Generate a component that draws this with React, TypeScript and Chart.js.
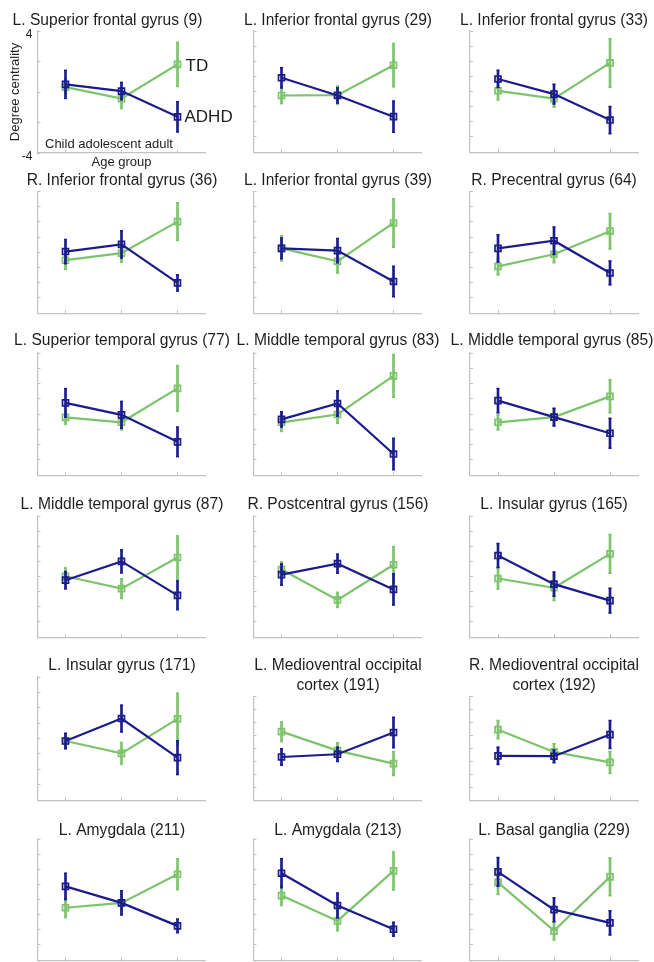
import React, { useEffect, useRef } from 'react';
import { Chart, registerables } from 'chart.js';

Chart.register(...registerables);

// ---------------- DATA ----------------
const ageGroups = ['Child', 'adolescent', 'adult'];
const seriesNames = ['TD', 'ADHD'];
const yRange = [-4, 4];
const yTickLabels = ['-4', '4'];
const yAxisTitle = 'Degree centrality';
const xAxisTitle = 'Age group';

const regionTitles: string[][] = [
  ['L. Superior frontal gyrus (9)'],
  ['L. Inferior frontal gyrus (29)'],
  ['L. Inferior frontal gyrus (33)'],
  ['R. Inferior frontal gyrus (36)'],
  ['L. Inferior frontal gyrus (39)'],
  ['R. Precentral gyrus (64)'],
  ['L. Superior temporal gyrus (77)'],
  ['L. Middle temporal gyrus (83)'],
  ['L. Middle temporal gyrus (85)'],
  ['L. Middle temporal gyrus (87)'],
  ['R. Postcentral gyrus (156)'],
  ['L. Insular gyrus (165)'],
  ['L. Insular gyrus (171)'],
  ['L. Medioventral occipital', 'cortex (191)'],
  ['R. Medioventral occipital', 'cortex (192)'],
  ['L. Amygdala (211)'],
  ['L. Amygdala (213)'],
  ['L. Basal ganglia (229)'],
];

const tdMeans: number[][] = [
  [0.32, -0.43, 1.81],
  [-0.26, -0.24, 1.74],
  [0.05, -0.47, 1.89],
  [-0.52, -0.06, 2.02],
  [0.26, -0.6, 1.93],
  [-0.93, -0.13, 1.39],
  [-0.22, -0.54, 1.68],
  [-0.54, -0.03, 2.5],
  [-0.54, -0.2, 1.16],
  [0.02, -0.8, 1.26],
  [0.46, -1.54, 0.78],
  [-0.13, -0.74, 1.5],
  [-0.16, -0.96, 1.28],
  [1.29, -0.18, -1.18],
  [1.44, -0.28, -1.09],
  [-0.54, -0.22, 1.67],
  [0.26, -1.41, 1.89],
  [1.13, -2.07, 1.5],
];
const tdErrors: number[][] = [
  [0.5, 0.65, 1.45],
  [0.54, 0.6, 1.43],
  [0.6, 0.57, 1.6],
  [0.6, 0.6, 1.24],
  [0.83, 0.76, 1.6],
  [0.55, 0.55, 1.17],
  [0.45, 0.5, 1.5],
  [0.6, 0.58, 1.4],
  [0.5, 0.55, 1.08],
  [0.55, 0.65, 1.43],
  [0.5, 0.5, 1.2],
  [0.7, 0.85, 1.28],
  [0.5, 0.7, 1.67],
  [0.76, 0.6, 0.93],
  [0.7, 0.63, 0.85],
  [0.65, 0.6, 1.02],
  [0.65, 0.65, 1.26],
  [0.8, 0.6, 1.25],
];
const adhdMeans: number[][] = [
  [0.5, 0.06, -1.63],
  [0.91, -0.26, -1.66],
  [0.83, -0.17, -1.88],
  [0.05, 0.52, -2.01],
  [0.26, 0.11, -1.92],
  [0.26, 0.76, -1.36],
  [0.73, -0.05, -1.82],
  [-0.35, 0.69, -2.62],
  [0.88, -0.2, -1.26],
  [-0.24, 1.0, -1.24],
  [0.13, 0.85, -0.85],
  [1.39, -0.5, -1.59],
  [-0.16, 1.3, -1.24],
  [-0.67, -0.46, 1.22],
  [-0.58, -0.61, 1.06],
  [0.87, -0.22, -1.74],
  [1.74, -0.39, -1.96],
  [1.83, -0.67, -1.54],
];
const adhdErrors: number[][] = [
  [0.92, 0.57, 0.99],
  [0.67, 0.5, 1.03],
  [0.57, 0.65, 0.9],
  [0.8, 0.89, 0.53],
  [0.68, 0.8, 1.0],
  [0.89, 0.9, 0.78],
  [0.94, 0.88, 0.97],
  [0.5, 0.83, 1.03],
  [0.8, 0.58, 0.98],
  [0.57, 0.76, 0.95],
  [0.7, 0.63, 1.03],
  [0.8, 0.8, 0.82],
  [0.5, 0.87, 1.1],
  [0.64, 0.55, 1.18],
  [0.67, 0.5, 1.08],
  [0.87, 0.8, 0.45],
  [0.96, 0.82, 0.46],
  [0.95, 0.79, 0.8],
];

// ---------------- STYLE / LAYOUT ----------------
const TD_COLOR = '#7dc36b';
const ADHD_COLOR = '#1b1b8e';
const AXIS_COLOR = '#c2c2c2';
const TEXT_COLOR = '#1e1e1e';
const FONT = '"Liberation Sans", Arial, Helvetica, sans-serif';
const TITLE_SIZE = 15.6;
const TITLE_LH = 1.25;
const TITLE_LINE_PX = TITLE_SIZE * TITLE_LH;

const colChartLeft = [37.5, 253.5, 470];
const chartWidth = 168;
const rowTitleY = [21, 181, 341, 505, 666, 830.5];
const rowChartTop = [31, 191.5, 353, 516, 677, 839];
const rowChartBottom = [153, 314, 475.5, 638, 801, 961];
const extraLineDrop = 19.5;

function geometry(idx: number) {
  const r = Math.floor(idx / 3);
  const c = idx % 3;
  const lines = regionTitles[idx].length;
  const chartLeft = colChartLeft[c];
  const chartRight = chartLeft + chartWidth;
  const tc = rowTitleY[r];
  const top = rowChartTop[r] + (lines - 1) * extraLineDrop;
  const bottom = rowChartBottom[r];
  let CL: number;
  let W: number;
  if (idx === 0) {
    CL = -20;
    W = 255;
  } else if (idx === 8) {
    CL = chartLeft - 34;
    W = 232;
  } else {
    CL = chartLeft - 30;
    W = 228;
  }
  const CLi = Math.round(CL);
  const yw1 = chartLeft - CLi;
  const yw2 = CLi + W - chartRight;
  const CT = Math.round(tc - TITLE_LINE_PX / 2 - 4);
  const tpt = tc - TITLE_LINE_PX / 2 - CT;
  const tpb = top - (CT + tpt + lines * TITLE_LINE_PX);
  const xh = idx === 0 ? 18 : 4;
  const needed = bottom + xh - CT;
  const H = Math.ceil(needed) + 1;
  const padBottom = H - needed;
  return { CL: CLi, CT, W, H, yw1, yw2, tpt, tpb, xh, padBottom };
}

const firstPanelLabels = {
  id: 'firstPanelLabels',
  afterDatasetsDraw(chart: any) {
    const { ctx, chartArea } = chart;
    const x = chart.scales.x;
    const y = chart.scales.y;
    ctx.save();
    ctx.fillStyle = TEXT_COLOR;
    ctx.textBaseline = 'middle';
    ctx.textAlign = 'left';
    ctx.font = `17px ${FONT}`;
    const xa = x.getPixelForValue(2);
    ctx.fillText(seriesNames[0], xa + 8, y.getPixelForValue(tdMeans[0][2]) + 2);
    ctx.fillText(seriesNames[1], xa + 7, y.getPixelForValue(adhdMeans[0][2]));
    ctx.font = `13px ${FONT}`;
    ctx.fillText(ageGroups.join(' '), chartArea.left + 7.5, chartArea.bottom - 9);
    ctx.restore();
  },
};

function buildConfig(idx: number, g: ReturnType<typeof geometry>) {
  const isFirst = idx === 0;
  const series = [
    { name: seriesNames[1], means: adhdMeans[idx], errs: adhdErrors[idx], color: ADHD_COLOR, base: 1 },
    { name: seriesNames[0], means: tdMeans[idx], errs: tdErrors[idx], color: TD_COLOR, base: 5 },
  ];
  const datasets: any[] = [];
  series.forEach((s) => {
    const lows = s.means.map((m, i) => m - s.errs[i]);
    const highs = s.means.map((m, i) => m + s.errs[i]);
    datasets.push({
      type: 'line',
      label: s.name,
      data: s.means,
      borderColor: s.color,
      borderWidth: 2.2,
      tension: 0,
      pointStyle: 'rect',
      pointRadius: 4.2,
      pointBorderWidth: 1.7,
      pointBorderColor: s.color,
      pointBackgroundColor: 'rgba(255,255,255,0)',
      order: s.base,
    });
    datasets.push({
      type: 'bar',
      label: s.name + ' error',
      data: s.means.map((m, i) => [lows[i], highs[i]]),
      backgroundColor: s.color,
      borderWidth: 0,
      barThickness: 2,
      grouped: false,
      order: s.base + 1,
    });
    [lows, highs].forEach((vals, k) => {
      datasets.push({
        type: 'line',
        label: s.name + (k === 0 ? ' low cap' : ' high cap'),
        data: vals,
        showLine: false,
        pointStyle: 'line',
        pointRadius: 1.5,
        pointBorderWidth: 1.5,
        pointBorderColor: s.color,
        borderColor: s.color,
        order: s.base + 2,
      });
    });
  });

  return {
    type: 'line',
    data: { labels: ageGroups, datasets },
    options: {
      responsive: false,
      animation: false,
      events: [],
      layout: { padding: { left: 0, right: 0, top: 0, bottom: g.padBottom } },
      plugins: {
        legend: { display: false },
        tooltip: { enabled: false },
        title: {
          display: true,
          text: regionTitles[idx],
          align: 'center',
          fullSize: true,
          color: TEXT_COLOR,
          font: { family: FONT, size: TITLE_SIZE, weight: 'normal', lineHeight: TITLE_LH },
          padding: { top: g.tpt, bottom: g.tpb },
        },
      },
      scales: {
        x: {
          type: 'category',
          offset: true,
          grid: {
            display: true,
            offset: false,
            drawOnChartArea: false,
            drawTicks: true,
            tickLength: -3,
            color: AXIS_COLOR,
            lineWidth: 1,
          },
          border: { display: true, color: AXIS_COLOR, width: 1.2 },
          ticks: { display: false },
          title: isFirst
            ? {
                display: true,
                text: xAxisTitle,
                color: TEXT_COLOR,
                font: { family: FONT, size: 13, lineHeight: 1.2 },
                padding: { top: 0, bottom: 1.2 },
              }
            : { display: false },
          afterFit: (s: any) => {
            s.height = g.xh;
          },
        },
        y: {
          type: 'linear',
          position: 'left',
          min: yRange[0],
          max: yRange[1],
          grid: {
            display: true,
            drawOnChartArea: false,
            drawTicks: true,
            tickLength: -3,
            color: AXIS_COLOR,
            lineWidth: 1,
          },
          border: { display: true, color: AXIS_COLOR, width: 1.2 },
          ticks: {
            display: isFirst,
            stepSize: 1,
            padding: 8,
            labelOffset: 4,
            color: TEXT_COLOR,
            font: { family: FONT, size: 12 },
            callback: (v: any) => {
              const n = Number(v);
              if (n === yRange[0]) return yTickLabels[0];
              if (n === yRange[1]) return yTickLabels[1];
              return '';
            },
          },
          title: isFirst
            ? {
                display: true,
                text: yAxisTitle,
                color: TEXT_COLOR,
                font: { family: FONT, size: 13, lineHeight: 1.2 },
                padding: { top: 15 - g.CL - 7.8, bottom: 0 },
              }
            : { display: false },
          afterFit: (s: any) => {
            s.width = g.yw1;
          },
        },
        y2: {
          type: 'linear',
          position: 'right',
          min: yRange[0],
          max: yRange[1],
          display: true,
          grid: { display: false },
          border: { display: false },
          ticks: { display: false },
          afterFit: (s: any) => {
            s.width = g.yw2;
          },
        },
      },
    },
    plugins: isFirst ? [firstPanelLabels] : [],
  };
}

function Panel({ idx }: { idx: number }) {
  const ref = useRef<HTMLCanvasElement | null>(null);
  const g = geometry(idx);
  useEffect(() => {
    if (!ref.current) return;
    const chart = new Chart(ref.current, buildConfig(idx, g) as any);
    return () => chart.destroy();
  }, [idx]);
  return (
    <canvas
      ref={ref}
      width={g.W}
      height={g.H}
      style={{ position: 'absolute', left: g.CL, top: g.CT, width: g.W, height: g.H }}
    />
  );
}

export default function App() {
  return (
    <div
      style={{
        position: 'fixed',
        left: 0,
        top: 0,
        width: 654,
        height: 962,
        overflow: 'hidden',
        background: '#ffffff',
      }}
    >
      {regionTitles.map((_, i) => (
        <Panel key={i} idx={i} />
      ))}
    </div>
  );
}
